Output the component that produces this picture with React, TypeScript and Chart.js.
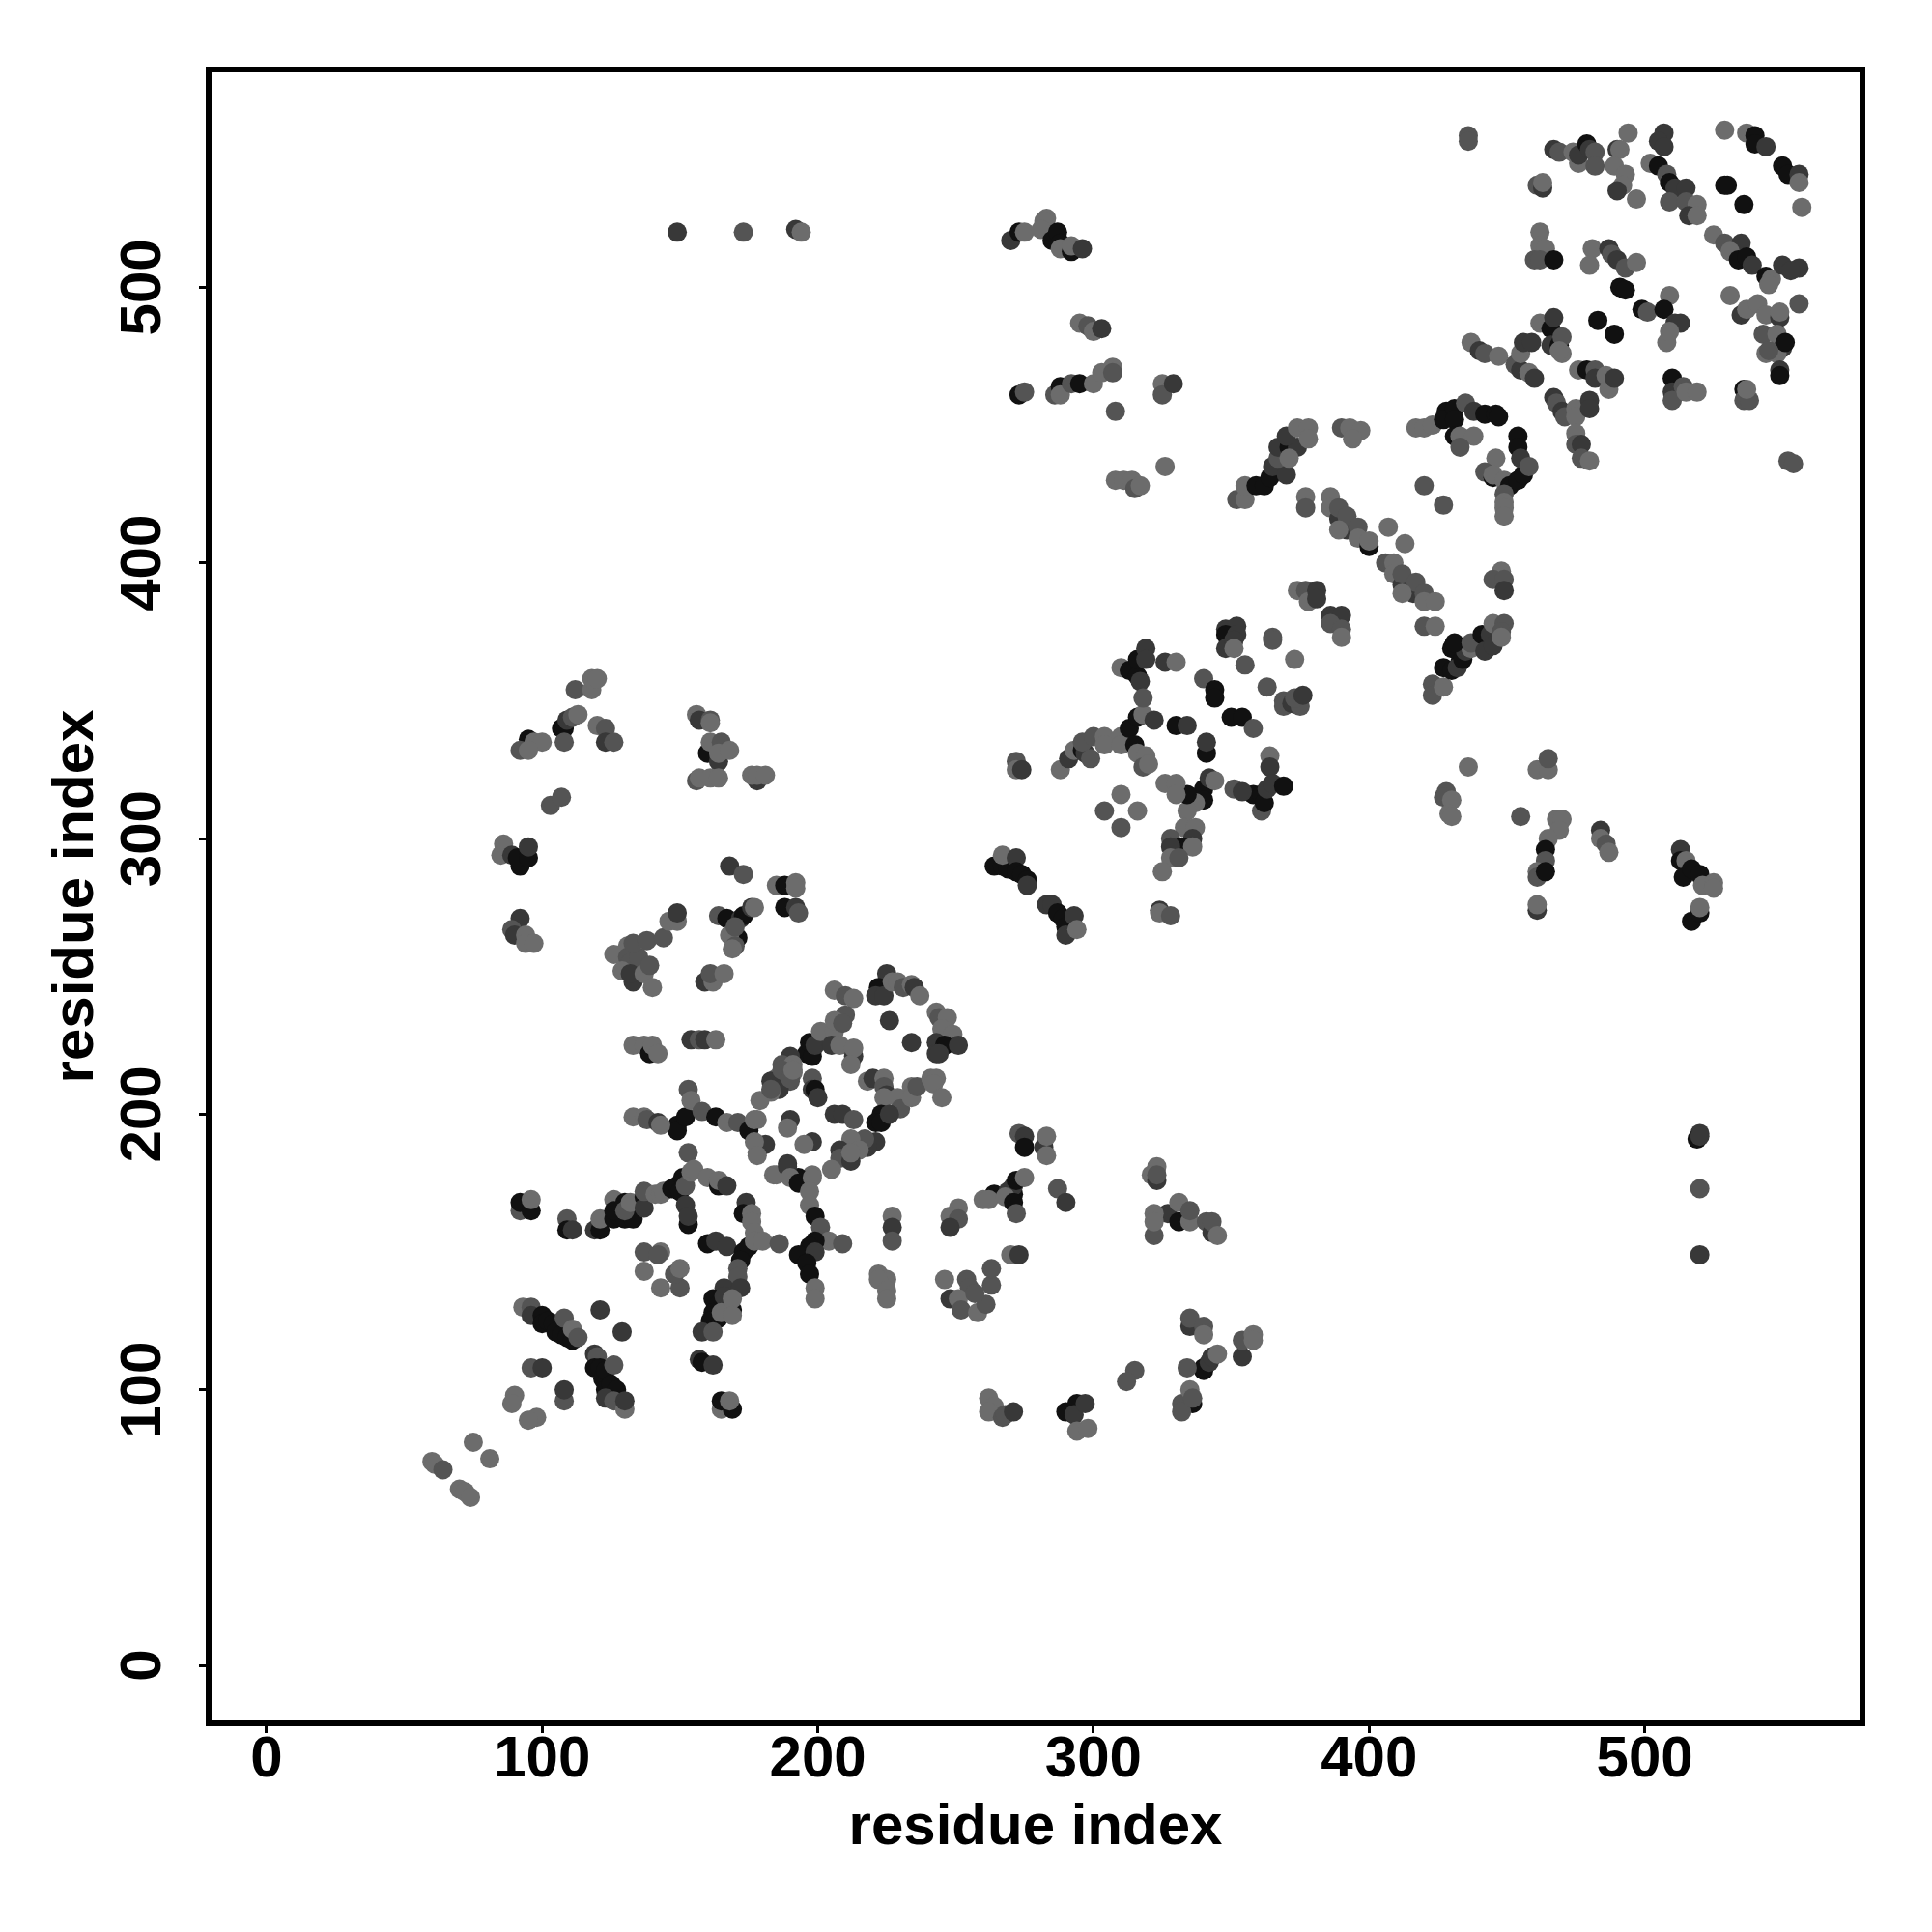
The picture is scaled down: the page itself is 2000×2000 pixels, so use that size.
import React, { useEffect, useRef } from "react";
import { Chart, registerables } from "chart.js";

Chart.register(...registerables);

type P = number[];

const axisTitle = "residue index";
const tickValues = [0, 100, 200, 300, 400, 500];
const greys = ["#6c6c6c", "#545454", "#383838", "#111111"];

// every point: [residue x, residue y, grey index]; list order is drawing order
const tailContacts: P[] = [
  [60,74,0],[61,73,0],[64,71,1],[70,64,0],[72,63,0],[74,61,0],[75,81,0],[81,75,0],[90,98,0],[89,95,0],[98,90,0],[95,89,0],
  [108,96,1],[108,100,2],[96,108,1],[100,108,2],[121,129,2],[129,121,2],
  [93,130,0],[96,130,1],[96,127,2],[100,127,3],[100,124,3],[102,125,3],[104,124,3],[105,121,3],[107,120,3],[109,119,3],[111,118,3],[108,126,1],[111,122,0],[113,119,1],
  [119,113,2],[120,112,1],[119,108,3],[121,108,3],[122,104,3],[123,107,3],[123,100,3],[125,102,3],[127,100,3],[126,109,1],[123,97,2],[126,96,1],[130,93,0],[130,96,2],
  [92,165,1],[92,168,3],[96,165,3],[96,169,0],[109,162,1],[109,158,3],[111,158,2],
  [119,158,2],[121,158,3],[121,162,0],[126,169,0],[126,162,3],[128,163,3],[130,162,3],[133,162,3],[126,165,3],[130,168,3],[130,165,1],[132,168,0],[137,170,3],[137,166,2],[137,172,1],
  [141,171,0],[143,171,0],[144,172,0],[147,173,3],[149,174,3],[150,172,3],[151,177,3],[152,174,1],[153,186,1],[154,179,0],[155,180,0],
  [152,167,2],[153,160,3],[153,163,2],[160,177,0],[164,174,3],[164,176,0],[167,174,2],
  [137,150,1],[143,150,0],[142,149,1],[137,143,0],[143,137,0],[150,137,1],[148,142,1],[150,144,0],
];

const strandContacts: P[] = [
  [174,168,2],[173,164,3],[176,164,0],[176,161,0],[177,157,0],[160,153,3],[163,154,2],[167,152,2],
  [173,150,3],[175,152,3],[172,147,3],[177,154,0],[180,154,0],[186,153,1],[171,144,1],[171,141,1],[166,137,2],[172,137,2],
  [162,133,3],[164,131,3],[167,130,1],[166,134,2],[162,128,3],[164,126,3],[161,125,3],[169,129,3],[165,128,0],[169,133,0],[169,127,0],[158,121,2],[162,121,1],
  [157,111,2],[158,110,3],[162,109,2],[165,93,0],[169,93,3],[165,96,3],[168,96,0],
  [185,178,0],[189,181,2],[190,177,0],[193,175,3],[198,177,0],[197,172,0],[197,167,0],[199,163,3],[201,159,1],[204,154,0],[209,153,1],
  [199,154,3],[197,152,3],[193,149,3],[199,150,2],[196,146,3],[197,142,3],[199,137,0],[199,133,0],
  [222,142,0],[225,140,0],[222,140,0],[225,136,0],[225,133,0],[227,163,0],[227,159,2],[227,154,1],
  [251,166,0],[248,163,0],[251,162,1],[248,159,2],
  [149,196,3],[149,194,3],[152,199,3],[153,209,1],[154,205,0],[158,201,1],[163,199,3],[167,197,0],[171,197,1],[175,194,3],[177,198,0],[181,189,2],[177,190,0],[178,185,0],
  [133,199,0],[137,199,0],[138,198,1],[142,197,2],[143,196,0],[133,225,0],[137,225,0],[139,222,3],[140,225,0],[142,222,0],
  [154,227,2],[157,227,1],[159,227,2],[163,227,0],[168,290,2],[173,287,1],
];

const sheetBlock: P[] = [
  [196,222,3],[198,221,3],[197,226,3],[199,225,2],[201,230,0],[206,230,0],[205,225,2],[208,225,0],[213,221,2],[213,224,0],[212,218,0],
  [206,245,0],[210,243,1],[213,242,0],[210,236,1],[206,234,0],[209,233,1],
  [190,221,2],[187,218,1],[191,218,0],[191,215,0],[185,213,0],[183,212,2],[190,212,1],[186,209,2],[183,208,0],[179,205,0],
  [198,213,1],[198,209,2],[199,209,3],[200,206,2],[183,209,1],[187,216,1],[190,213,1],[191,216,0],
  [218,212,0],[220,213,2],[224,213,0],[224,210,1],[225,207,2],[224,206,0],[229,206,0],[230,202,1],[234,210,0],[234,206,0],[236,210,1],[241,213,0],[243,213,0],[242,211,0],[245,206,0],
  [223,200,3],[221,197,3],[223,197,3],[226,200,2],[206,200,2],[209,200,2],[213,198,1],
  [190,198,2],[189,195,0],[198,190,2],[195,189,0],[221,190,2],[218,188,2],[217,191,1],[212,191,0],[215,187,0],[208,187,2],[208,184,1],[212,183,2],[212,186,0],[205,180,0],
  [178,198,0],[178,186,0],[189,182,2],[184,178,0],[190,178,0],[198,178,0],[193,177,3],
  [225,251,2],[222,246,3],[221,243,2],[224,243,2],[227,248,0],[229,248,0],[231,246,1],[234,247,0],[235,246,2],[237,243,0],
  [243,237,0],[244,235,1],[247,235,0],[245,231,0],[249,229,0],[243,226,2],[246,225,3],[243,222,2],[244,222,2],[251,225,2],[226,234,2],[234,226,2],
];

const crossContactsLow: P[] = [
  [273,193,1],[275,192,2],[275,188,3],[282,188,2],[283,192,0],[283,185,0],
  [271,171,3],[264,171,3],[269,172,2],[271,174,2],[272,176,3],[260,169,0],[262,169,0],[268,170,0],[271,168,3],[272,164,1],[275,177,0],[287,173,1],[290,168,2],
  [323,181,0],[321,178,0],[323,176,2],[323,178,1],[327,164,2],[331,161,3],[331,168,0],[335,161,0],[335,165,1],[341,161,1],[343,157,2],[343,161,1],[345,156,0],
  [322,164,0],[322,156,1],[322,161,0],
  [246,140,0],[254,140,1],[255,137,1],[263,138,1],[263,144,1],[270,149,0],[273,149,2],[248,133,2],[251,133,0],[252,129,1],[258,128,0],[261,131,1],[257,135,1],
  [335,123,2],[335,126,1],[340,123,1],[340,120,0],[354,112,2],[354,118,1],[358,120,0],[358,118,0],
  [340,107,3],[340,108,3],[342,110,2],[343,112,2],[345,113,0],[334,108,1],[315,107,1],[312,103,1],
  [336,95,3],[332,95,1],[332,92,1],[335,100,0],[336,97,1],
  [262,97,0],[264,94,0],[262,92,0],[267,90,1],[268,91,1],[271,92,2],[290,92,3],[294,95,3],[293,91,2],[297,95,2],[294,85,0],[298,86,0],
  [520,193,2],[519,191,3],[520,192,2],[520,173,1],[520,149,2],
];

const crossContactsLeft: P[] = [
  [112,354,1],[118,354,0],[118,358,0],[120,358,0],[107,340,3],[108,340,3],[109,343,2],[111,344,1],[113,345,0],[108,335,1],
  [120,341,0],[123,340,1],[123,335,2],[126,335,1],[95,336,3],[97,335,0],[100,335,0],[92,332,1],[95,332,0],[103,312,1],[107,315,1],
  [85,294,0],[86,298,0],[89,294,2],[92,290,3],[91,293,3],[95,293,3],[95,297,2],
  [92,271,2],[89,267,1],[90,265,2],[94,265,0],[94,262,0],[97,262,0],
  [126,258,0],[131,261,0],[131,257,1],[132,255,1],[135,257,1],[133,262,1],[138,263,1],[129,252,0],[133,248,2],[132,251,2],[137,251,0],[139,254,1],[140,246,0],
  [144,264,1],[146,270,0],[149,270,0],[149,273,2],
  [156,345,0],[157,343,2],[161,343,1],[161,342,0],[160,331,3],[164,328,2],[161,335,0],[165,335,1],[164,331,0],[168,332,0],
  [156,321,1],[157,322,0],[161,322,0],[164,322,0],[178,321,2],[176,323,0],[178,323,0],[181,323,0],
  [185,283,0],[188,283,3],[192,284,0],[192,282,0],[188,275,3],[192,275,2],[193,273,1],
  [164,272,1],[167,271,3],[172,271,2],[173,272,3],[176,275,2],[177,275,0],[171,264,3],[168,265,0],[170,268,1],[170,261,1],[169,260,0],
  [159,248,2],[162,248,0],[161,251,1],[166,251,0],
  [149,520,2],[173,520,1],[192,521,2],[194,520,0],
];

const centreContacts: P[] = [
  [264,290,3],[267,290,3],[269,289,3],[267,294,0],[272,293,2],[272,288,3],[274,287,3],[276,285,3],[276,283,2],
  [283,276,2],[285,276,2],[287,273,3],[289,271,3],[290,268,3],[290,265,2],[293,272,2],[294,267,0],
  [272,328,1],[272,325,0],[274,325,2],[288,325,0],
  [291,329,2],[293,332,0],[296,332,3],[297,331,2],[296,335,1],[299,329,1],[300,337,1],[304,337,0],[304,334,0],
  [310,337,0],[310,334,0],[313,340,3],[316,344,3],[318,345,0],[322,343,2],[315,334,3],[316,331,0],[319,330,0],[318,326,1],[320,327,0],
  [310,362,0],[313,361,3],[316,359,3],[316,365,3],[319,369,2],[319,365,2],[317,357,2],[318,351,1],[326,364,2],[330,364,0],
  [340,358,1],[344,354,3],[344,351,3],[350,344,3],[354,344,3],[358,340,1],[330,341,3],[334,341,2],[341,331,3],[341,335,2],
  [348,369,2],[351,372,2],[351,369,0],[355,363,1],[365,372,1],[373,365,0],[363,355,1],
  [369,350,1],[369,348,1],[372,349,2],[375,348,1],[373,351,1],[376,352,2],[390,373,0],
  [364,330,0],[364,326,2],[361,310,1],[358,316,3],[361,316,3],[362,313,3],[351,318,1],[354,317,2],[363,318,2],[365,320,2],[369,319,3],
  [340,318,3],[340,314,3],[337,313,0],[334,310,0],[334,316,3],[342,322,2],[344,321,0],[326,320,0],[330,320,0],[330,316,0],
  [310,316,0],[304,310,1],[316,310,0],[310,304,1],
  [333,304,0],[337,304,0],[328,300,1],[336,300,2],[332,297,3],[328,297,2],[336,297,0],[328,293,0],[331,293,1],[325,288,0],
  [324,274,2],[324,273,0],[328,272,1],
];

const crossContactsUpper: P[] = [
  [270,517,2],[273,520,3],[275,520,0],[283,525,0],[282,524,0],[281,521,0],[285,517,3],[287,520,3],[288,516,3],[288,514,0],[292,513,3],[292,515,0],[296,514,2],
  [295,487,0],[298,486,1],[300,484,0],[303,485,2],[273,461,3],[275,462,1],[286,461,1],[288,464,3],[288,461,0],[292,465,1],[295,465,3],[300,465,0],[303,469,0],[307,471,0],[307,469,1],
  [325,465,0],[325,461,1],[329,465,2],[308,455,1],[326,435,0],[308,430,0],[311,430,0],[314,430,0],[315,427,1],[317,428,0],
  [436,326,0],[428,317,1],[427,315,1],[430,314,0],[429,309,0],[430,308,0],[455,308,1],
  [461,325,0],[465,325,0],[465,329,1],[468,307,0],[470,307,0],[469,303,0],[465,300,0],[464,296,3],[464,292,1],[461,288,0],[461,286,1],[464,288,3],[461,274,2],[461,276,0],
  [484,303,2],[484,300,0],[486,298,1],[487,295,0],
  [513,296,2],[513,292,3],[515,292,0],[514,286,3],[517,289,3],[520,287,3],[521,283,0],[525,284,0],[525,282,0],[517,270,3],[520,273,3],[520,275,0],
];

const diagonalMiddle: P[] = [
  [352,423,1],[355,423,0],[355,428,0],[359,428,3],[362,428,3],[364,431,3],[365,435,2],[370,432,2],[367,438,1],[367,442,2],[371,442,3],[374,442,2],[371,438,0],[370,446,2],[374,449,0],[378,449,0],[378,445,0],
  [390,449,1],[393,449,0],[397,448,0],[394,445,0],[417,449,0],[420,449,0],[423,450,0],
  [377,424,0],[377,420,1],[386,424,0],[386,420,0],[389,416,2],[389,420,1],[392,412,2],[392,417,1],[389,412,0],[396,413,1],[396,409,0],[400,406,3],[400,408,0],[407,413,0],[413,407,0],
  [406,400,1],[409,400,0],[409,396,0],[412,392,2],[412,396,1],[416,389,2],[417,393,1],[412,389,0],[420,389,1],[420,386,0],[424,386,0],
  [374,390,0],[377,390,1],[378,386,0],[381,390,2],[381,387,2],[386,381,2],[390,381,2],[386,378,1],[390,376,1],
  [420,377,1],[424,377,0],[348,376,2],[352,377,2],[348,374,3],[352,374,2],[365,373,1],
  [420,428,1],[427,421,1],[423,356,1],[423,352,1],[427,355,0],[427,362,3],[430,361,3],[433,364,3],[430,369,3],[432,362,2],[434,365,3],[435,368,2],[437,369,0],[431,371,3],[437,371,1],[441,374,3],[442,368,2],[444,374,2],[445,370,2],[445,378,0],[449,378,1],[448,375,1],[448,373,0],
  [448,397,0],[445,394,1],[449,394,1],[449,390,2],
  [428,455,3],[427,452,3],[431,456,3],[431,452,3],[435,458,1],[438,455,2],[442,454,3],[446,454,3],[447,453,3],[431,446,3],[433,446,0],[438,446,0],[433,442,1],
  [454,446,3],[454,442,3],[446,438,0],[442,433,1],[445,431,3],[445,432,0],[449,430,0],[451,428,3],[454,430,3],[456,432,3],[455,438,2],[458,435,1],[449,425,1],[449,422,0],[449,420,0],[449,417,0],
];

const diagonalTop: P[] = [
  [437,480,0],[440,477,2],[442,476,1],[447,475,0],[453,472,1],[455,470,2],[455,476,0],[458,469,0],[460,467,2],[456,480,2],[459,480,2],
  [462,487,0],[466,485,3],[467,489,2],[466,479,2],[469,479,3],[470,482,1],[470,476,0],[469,477,0],
  [476,470,0],[479,470,3],[482,470,1],[482,467,2],[486,468,0],[487,463,0],[489,467,2],[483,488,3],[489,483,3],
  [467,460,2],[468,458,1],[470,455,2],[471,453,1],[475,456,0],[475,453,0],[480,459,2],[480,456,2],[475,447,0],[475,443,1],[477,443,2],[477,438,1],[480,437,0],
  [510,467,3],[510,462,2],[510,459,1],[514,464,1],[515,462,0],[519,462,0],[536,463,3],[536,459,1],[538,459,1],[537,463,0],
  [552,437,1],[554,436,1],
  [462,520,0],[462,515,0],[464,514,0],[460,510,1],[462,510,1],[467,510,3],
  [436,555,1],[436,553,1],[461,537,1],[463,536,2],[463,538,0],
  [467,550,2],[469,549,1],[474,549,0],[476,545,0],[476,548,2],[479,552,3],[480,550,2],[482,549,1],[482,544,1],[490,550,2],[491,550,0],[489,544,0],[494,556,0],[493,541,0],[492,537,0],[490,535,2],[497,532,0],
  [507,556,2],[505,553,2],[507,551,2],[502,545,0],[505,544,3],[508,541,1],[509,538,3],[511,536,2],[515,536,2],[509,531,1],[515,531,1],[519,530,0],[516,526,2],[519,526,0],
  [529,557,0],[537,556,0],[540,555,3],[540,552,3],[544,551,2],[529,537,3],[530,537,3],[536,530,3],[550,544,3],[552,541,3],[556,541,2],[556,538,0],[557,529,0],
  [525,519,0],[529,516,1],[535,516,2],[531,513,0],[534,510,3],[537,511,3],[539,508,2],[544,504,3],[546,503,0],[545,501,0],[550,508,2],[556,507,2],[553,506,2],
  [531,497,0],[535,490,2],[537,492,0],[541,494,0],[544,490,0],[549,489,2],[549,491,0],[556,494,1],[543,483,1],[544,476,0],[548,483,0],[550,478,2],[548,476,0],[551,480,3],[549,470,2],[549,468,3],[545,477,1],
  [481,514,0],[487,514,2],[488,512,1],[490,510,2],[493,507,1],[497,509,0],[480,508,0],[491,500,3],[493,499,3],[499,492,3],[501,491,1],[509,497,0],[507,492,3],[511,487,2],[513,487,2],[508,480,0],[509,484,0],
];

const contactLists: P[][] = [
  tailContacts, strandContacts, sheetBlock, crossContactsLow, crossContactsLeft,
  centreContacts, crossContactsUpper, diagonalMiddle, diagonalTop,
];

export default function App() {
  const ref = useRef<HTMLCanvasElement>(null);

  useEffect(() => {
    if (!ref.current) return;
    const frame = {
      id: "frame",
      afterDatasetsDraw(c: any) {
        const { left, top, width, height } = c.chartArea;
        c.ctx.save();
        c.ctx.strokeStyle = "#000";
        c.ctx.lineWidth = 6;
        c.ctx.strokeRect(left, top, width, height);
        c.ctx.restore();
      },
    };
    const tickFont = { family: "'Liberation Sans'", size: 60, weight: "bold" as const };
    const titleFont = { family: "'Liberation Sans'", size: 60, weight: "bold" as const, lineHeight: 1 };
    const baseAxis = {
      type: "linear" as const,
      min: -21,
      max: 579,
      border: { display: false },
      grid: { drawOnChartArea: false, drawTicks: true, tickLength: 10, tickColor: "#000", tickWidth: 3 },
    };
    const chart = new Chart(ref.current, {
      type: "scatter",
      data: {
        datasets: contactLists.map((list) => ({
          data: list.map(([x, y]) => ({ x, y })),
          pointRadius: 10,
          pointBorderWidth: 0,
          pointBackgroundColor: list.map(([, , s]) => greys[s]),
        })),
      },
      options: {
        responsive: false,
        devicePixelRatio: 1,
        animation: false,
        layout: { padding: { top: 72, right: 72, left: 0, bottom: 0 } },
        plugins: { legend: { display: false }, tooltip: { enabled: false } },
        scales: {
          x: {
            ...baseAxis,
            afterBuildTicks: (s: any) => { s.ticks = tickValues.map((value) => ({ value })); },
            afterFit: (s: any) => { s.height = 216; },
            ticks: { color: "#000", font: tickFont, padding: -8, maxRotation: 0, autoSkip: false, includeBounds: false },
            title: { display: true, text: axisTitle, color: "#000", font: titleFont, padding: { top: 0, bottom: 78 } },
          },
          y: {
            ...baseAxis,
            afterBuildTicks: (s: any) => { s.ticks = tickValues.map((value) => ({ value })); },
            afterFit: (s: any) => { s.width = 216; },
            ticks: { color: "#000", font: tickFont, padding: 6, minRotation: 90, maxRotation: 90, crossAlign: "center", autoSkip: false, includeBounds: false },
            title: { display: true, text: axisTitle, color: "#000", font: titleFont, padding: { top: 49, bottom: 0 } },
          },
        },
      },
      plugins: [frame],
    } as any);
    return () => chart.destroy();
  }, []);

  return (
    <div style={{ position: "absolute", left: 0, top: 0, width: 2000, height: 2000, background: "#fff" }}>
      <canvas ref={ref} width={2000} height={2000} style={{ display: "block", width: 2000, height: 2000 }} />
    </div>
  );
}
